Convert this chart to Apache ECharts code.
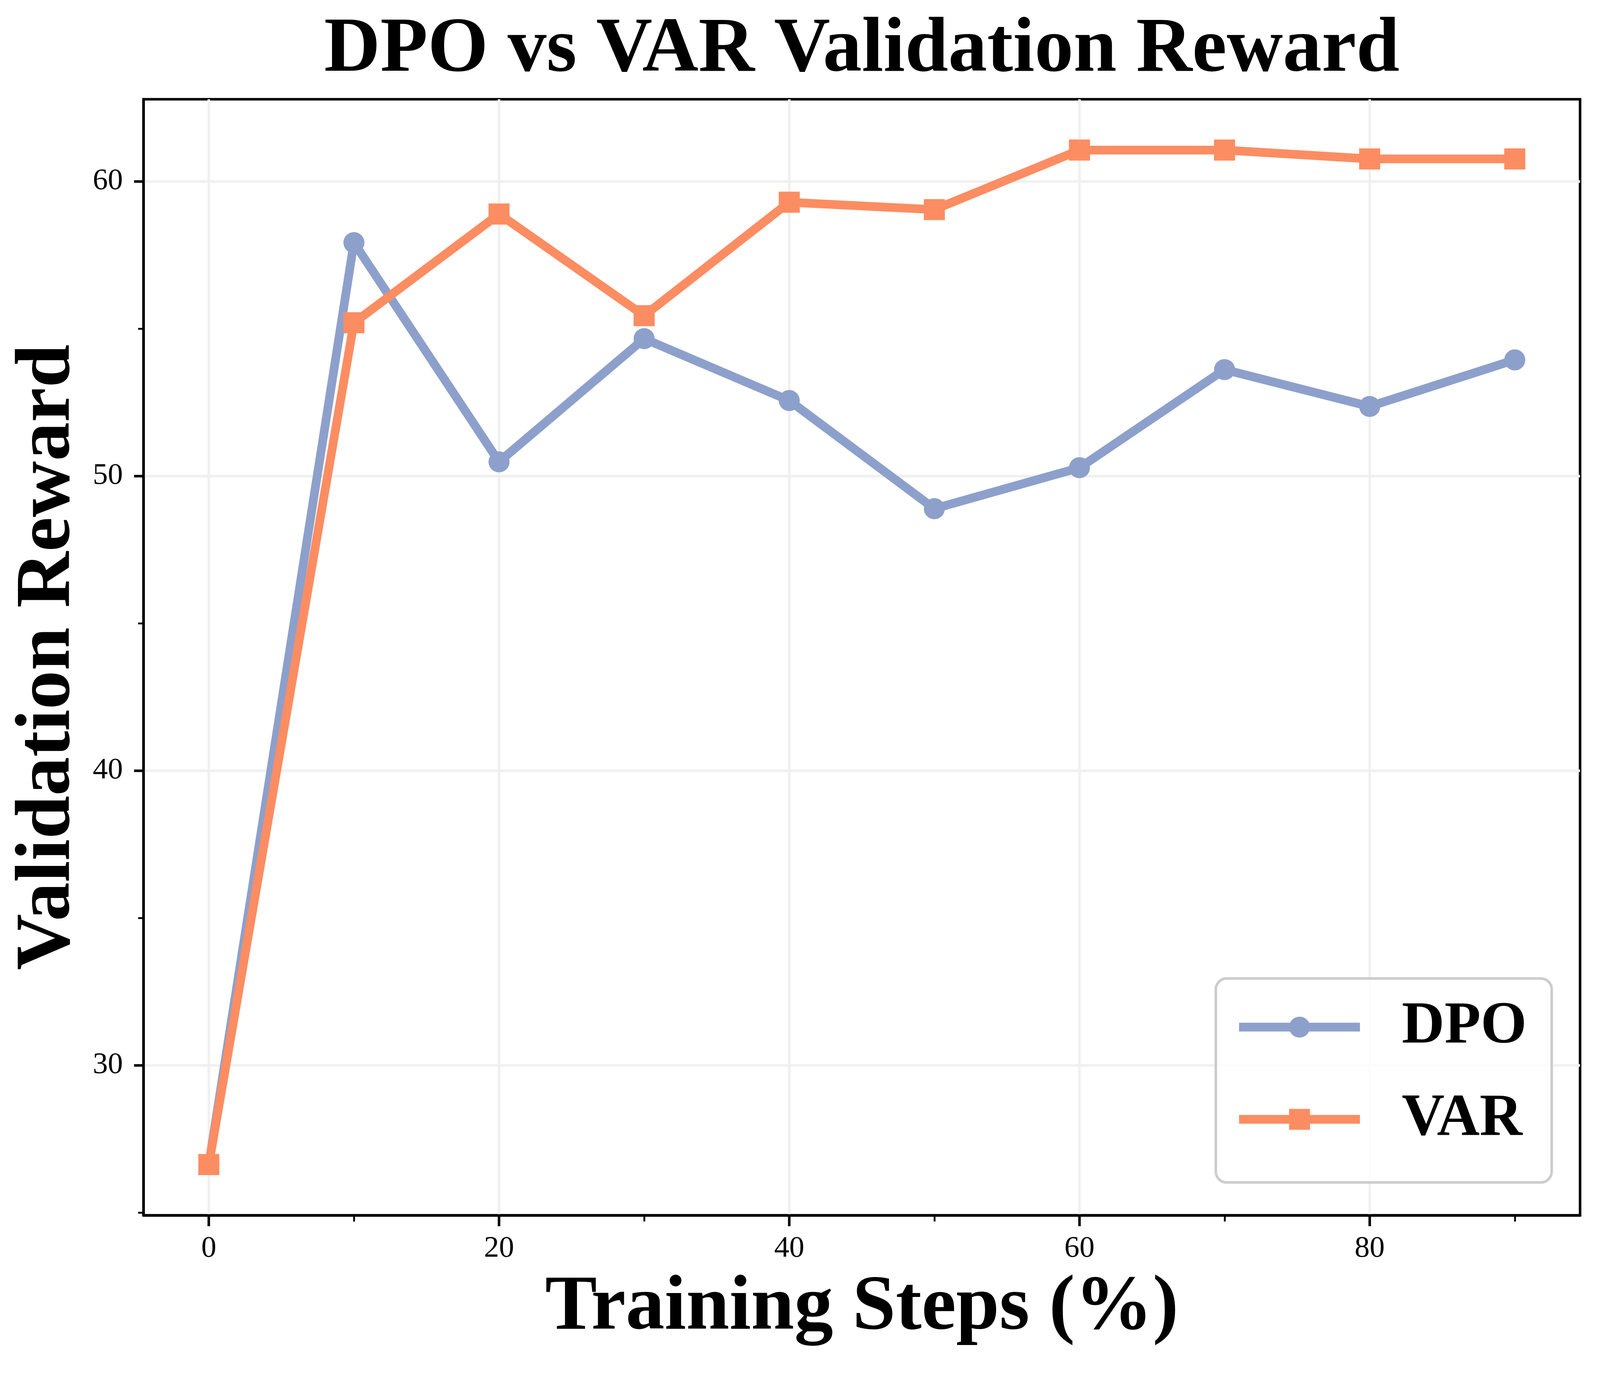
<!DOCTYPE html>
<html>
<head>
<meta charset="utf-8">
<script src="https://cdn.jsdelivr.net/npm/echarts@6/dist/echarts.min.js"></script>
<style>
html,body{margin:0;padding:0;background:#fff;overflow:hidden;}
#chart{position:absolute;left:0;top:0;}
</style>
</head>
<body>
<div id="chart"></div>
<script>
const steps = [0, 10, 20, 30, 40, 50, 60, 70, 80, 90];
const dpoReward = [26.63, 57.92, 50.48, 54.66, 52.56, 48.89, 50.28, 53.61, 52.36, 53.94];
const varReward = [26.63, 55.20, 58.89, 55.44, 59.29, 59.04, 61.06, 61.06, 60.76, 60.76];
const xMajorTicks = [0, 20, 40, 60, 80];
const xMinorTicks = [10, 30, 50, 70, 90];
const yMajorTicks = [30, 40, 50, 60];
const yMinorTicks = [25, 35, 45, 55];
const seriesNames = ['DPO', 'VAR'];
const titleText = 'DPO vs VAR Validation Reward';

const FONT = '"Liberation Serif", "Times New Roman", serif';
const X_MIN = -4.5, X_MAX = 94.5, Y_MIN = 24.91, Y_MAX = 62.785;

// The viewport may be smaller than the requested 4738x3529; lay out proportionally.
const W = window.innerWidth || document.documentElement.clientWidth;
const H = window.innerHeight || document.documentElement.clientHeight;
const SXr = W / 4738, SYr = H / 3529, SFr = Math.sqrt(SXr * SYr);
const SX = v => v * SXr, SY = v => v * SYr, SF = v => v * SFr;

const el = document.getElementById('chart');
el.style.width = W + 'px';
el.style.height = H + 'px';
const chart = echarts.init(el, null, {renderer: 'canvas'});

function pairs(xs, ys){ return xs.map((x, i) => [x, ys[i]]); }

const titleSize = SF(214);
const mctx = document.createElement('canvas').getContext('2d');
mctx.font = 'bold ' + titleSize + 'px ' + FONT;
const titleW = mctx.measureText(titleText).width;
const plotCenterX = SX(425) + (W - SX(425) - SX(59)) / 2;

const option = {
  backgroundColor: '#ffffff',
  animation: false,
  title: {
    text: titleText,
    left: plotCenterX - titleW / 2,
    top: SY(30),
    padding: 0,
    textStyle: {fontFamily: FONT, fontWeight: 'bold', fontSize: titleSize, color: '#000'}
  },
  grid: {left: SX(425), right: SX(59), top: SY(254), bottom: SY(419), containLabel: false,
         show: true, borderColor: '#000', borderWidth: SF(7), backgroundColor: 'transparent'},
  legend: {
    data: seriesNames,
    orient: 'vertical',
    right: SX(143),
    top: SY(2504),
    padding: [SY(43), SX(74), SY(80), SX(56)],
    itemGap: SY(73),
    itemWidth: SX(358),
    itemHeight: SF(72),
    backgroundColor: 'rgba(255,255,255,0.8)',
    borderColor: '#cccccc',
    borderWidth: SF(7),
    borderRadius: SF(30),
    lineStyle: {width: SF(24)},
    formatter: name => '{g|}{t|' + name + '}',
    textStyle: {
      fontFamily: FONT, fontWeight: 'bold', fontSize: SF(163), color: '#000', lineHeight: SY(163),
      rich: {
        g: {width: SX(118)},
        t: {fontFamily: FONT, fontWeight: 'bold', fontSize: SF(163), color: '#000', lineHeight: SY(163)}
      }
    }
  },
  xAxis: [
    {
      type: 'value', min: X_MIN, max: X_MAX, position: 'bottom',
      name: 'Training Steps (%)', nameLocation: 'middle', nameGap: SY(139),
      nameTextStyle: {fontFamily: FONT, fontWeight: 'bold', fontSize: SF(214), color: '#000'},
      axisLine: {show: true, onZero: false, lineStyle: {color: '#000', width: SF(7)}},
      axisTick: {show: true, customValues: xMajorTicks, length: SY(28), lineStyle: {color: '#000', width: SF(7)}},
      axisLabel: {show: true, customValues: xMajorTicks, margin: SY(47), fontFamily: FONT, fontSize: SF(83), color: '#000'},
      splitLine: {show: true, lineStyle: {color: '#f0f0f0', width: SF(7)}}
    },
    {
      type: 'value', min: X_MIN, max: X_MAX, position: 'bottom',
      axisLine: {show: false, onZero: false},
      axisTick: {show: true, customValues: xMinorTicks, length: SY(16), lineStyle: {color: '#000', width: SF(5)}},
      axisLabel: {show: false},
      splitLine: {show: false}
    }
  ],
  yAxis: [
    {
      type: 'value', min: Y_MIN, max: Y_MAX, position: 'left',
      name: 'Validation Reward', nameLocation: 'middle', nameGap: SX(166), nameRotate: 90,
      nameTextStyle: {fontFamily: FONT, fontWeight: 'bold', fontSize: SF(214), color: '#000'},
      axisLine: {show: true, onZero: false, lineStyle: {color: '#000', width: SF(7)}},
      axisTick: {show: true, customValues: yMajorTicks, length: SX(28), lineStyle: {color: '#000', width: SF(7)}},
      axisLabel: {show: true, customValues: yMajorTicks, margin: SX(61), fontFamily: FONT, fontSize: SF(83), color: '#000'},
      splitLine: {show: true, lineStyle: {color: '#f0f0f0', width: SF(7)}}
    },
    {
      type: 'value', min: Y_MIN, max: Y_MAX, position: 'left',
      axisLine: {show: false, onZero: false},
      axisTick: {show: true, customValues: yMinorTicks, length: SX(16), lineStyle: {color: '#000', width: SF(5)}},
      axisLabel: {show: false},
      splitLine: {show: false}
    }
  ],
  series: [
    {
      name: seriesNames[0], type: 'line', xAxisIndex: 0, yAxisIndex: 0,
      data: pairs(steps, dpoReward),
      symbol: 'circle', symbolSize: SF(58),
      lineStyle: {color: '#8da0cb', width: SF(24)},
      itemStyle: {color: '#8da0cb'},
      z: 3
    },
    {
      name: seriesNames[1], type: 'line', xAxisIndex: 0, yAxisIndex: 0,
      data: pairs(steps, varReward),
      symbol: 'rect', symbolSize: SF(58),
      lineStyle: {color: '#fc8d62', width: SF(24)},
      itemStyle: {color: '#fc8d62'},
      z: 4
    }
  ]
};
chart.setOption(option);
</script>
</body>
</html>
